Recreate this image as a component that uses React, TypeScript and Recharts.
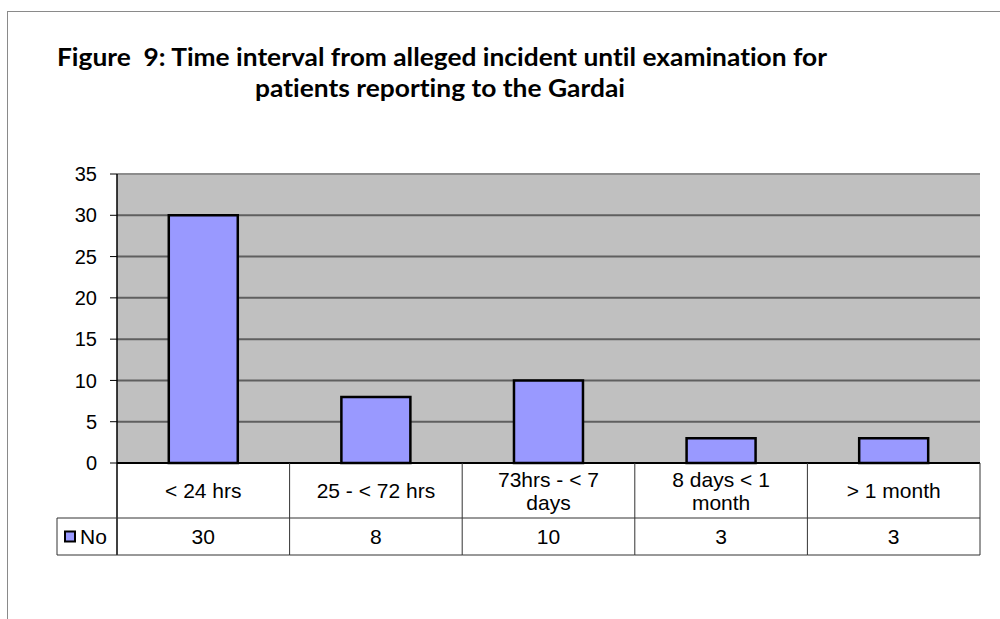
import React from "react";
import { BarChart, Bar, XAxis, YAxis, CartesianGrid, ReferenceLine } from "recharts";

const categories = ["< 24 hrs", "25 - < 72 hrs", "73hrs - < 7\ndays", "8 days < 1\nmonth", "> 1 month"];
const counts = [30, 8, 10, 3, 3];
const yTicks = [0, 5, 10, 15, 20, 25, 30, 35];
const seriesName = "No";
const titleLines = [
  "Figure\u00a0\u00a09: Time interval from alleged incident until examination for",
  "patients reporting to the Gardai",
];

const data = categories.map((c, i) => ({ category: c, value: counts[i] }));

const W = 1000;
const H = 619;
const MARGIN = { top: 174, right: 20, bottom: 64, left: 0 };
const Y_AXIS_W = 117;
const X_AXIS_H = 92;
const PLOT_W = W - MARGIN.left - MARGIN.right - Y_AXIS_W;
const BAND = PLOT_W / categories.length;
const ROW1_H = 55;
const ROW2_H = 37;
const KEY_CELL_W = 60;
const FONT = "'Liberation Sans', Arial, sans-serif";
const LINE = "#333333";
const FS = 21;

const TableTick = (props: any) => {
  const { x, y, payload, index } = props;
  const left = x - BAND / 2;
  const right = x + BAND / 2;
  const lines: string[] = String(payload.value).split("\n");
  const rowMid = y + ROW1_H / 2;
  const lh = 23;
  const startY = rowMid - ((lines.length - 1) * lh) / 2;
  const valMid = y + ROW1_H + ROW2_H / 2;
  return (
    <g>
      {index === 0 && (
        <g>
          <line x1={left} x2={left} y1={y} y2={y + X_AXIS_H} stroke="#000" strokeWidth={1.5} />
          <line x1={left - KEY_CELL_W} x2={left} y1={y + ROW1_H} y2={y + ROW1_H} stroke={LINE} strokeWidth={1} />
          <line x1={left - KEY_CELL_W} x2={left} y1={y + X_AXIS_H} y2={y + X_AXIS_H} stroke={LINE} strokeWidth={1} />
          <line x1={left - KEY_CELL_W} x2={left - KEY_CELL_W} y1={y + ROW1_H} y2={y + X_AXIS_H} stroke={LINE} strokeWidth={1} />
          <rect x={left - KEY_CELL_W + 8} y={valMid - 5} width={10} height={10} fill="#9999ff" stroke="#000" strokeWidth={2} />
          <text x={left - KEY_CELL_W + 23} y={valMid} dominantBaseline="central" fontFamily={FONT} fontSize={FS} fill="#000">
            {seriesName}
          </text>
        </g>
      )}
      <line x1={right} x2={right} y1={y} y2={y + X_AXIS_H} stroke={LINE} strokeWidth={1} />
      <line x1={left} x2={right} y1={y + ROW1_H} y2={y + ROW1_H} stroke={LINE} strokeWidth={1} />
      <line x1={left} x2={right} y1={y + X_AXIS_H} y2={y + X_AXIS_H} stroke={LINE} strokeWidth={1} />
      {lines.map((l, i) => (
        <text
          key={i}
          x={x}
          y={startY + i * lh}
          textAnchor="middle"
          dominantBaseline="central"
          fontFamily={FONT}
          fontSize={FS}
          fill="#000"
        >
          {l}
        </text>
      ))}
      <text x={x} y={valMid} textAnchor="middle" dominantBaseline="central" fontFamily={FONT} fontSize={FS} fill="#000">
        {counts[index]}
      </text>
    </g>
  );
};

const titleStyle: React.CSSProperties = { fontVariantLigatures: "none" };

export default function App() {
  return (
    <div style={{ position: "absolute", left: 0, top: 0, width: W, height: H, overflow: "hidden", background: "#fff" }}>
      <div
        style={{
          position: "absolute",
          left: 7,
          top: 11,
          width: 1100,
          height: 800,
          border: "1px solid #8a8a8a",
          boxSizing: "border-box",
        }}
      />
      <svg style={{ position: "absolute", left: 0, top: 0 }} width={W} height={130}>
        <text x={57} y={66} style={titleStyle} fontFamily="Lato, 'Open Sans', sans-serif" fontWeight="bold" fontSize={24} fill="#000" textLength={770} lengthAdjust="spacingAndGlyphs">
          {titleLines[0]}
        </text>
        <text x={255} y={97} style={titleStyle} fontFamily="Lato, 'Open Sans', sans-serif" fontWeight="bold" fontSize={24} fill="#000" textLength={370} lengthAdjust="spacingAndGlyphs">
          {titleLines[1]}
        </text>
      </svg>
      <div style={{ position: "absolute", left: 0, top: 0 }}>
        <BarChart width={W} height={H} data={data} margin={MARGIN} barCategoryGap="30%">
          <CartesianGrid horizontal vertical={false} stroke="#5f5f5f" strokeWidth={2} fill="#c0c0c0" fillOpacity={1} />
          <ReferenceLine y={35} stroke="#8c8c8c" strokeWidth={2} />
          <XAxis
            dataKey="category"
            height={X_AXIS_H}
            interval={0}
            axisLine={{ stroke: "#000", strokeWidth: 2 }}
            tickLine={false}
            tickSize={0}
            tickMargin={0}
            tick={<TableTick />}
          />
          <YAxis
            width={Y_AXIS_W}
            domain={[0, 35]}
            ticks={yTicks}
            interval={0}
            axisLine={{ stroke: "#000", strokeWidth: 1.5 }}
            tickLine={{ stroke: "#000", strokeWidth: 1 }}
            tickSize={7}
            tickMargin={13}
            tick={{ fontFamily: FONT, fontSize: 20, fill: "#000" }}
          />
          <Bar dataKey="value" name={seriesName} fill="#9999ff" stroke="#000" strokeWidth={2.5} isAnimationActive={false} />
        </BarChart>
      </div>
    </div>
  );
}
